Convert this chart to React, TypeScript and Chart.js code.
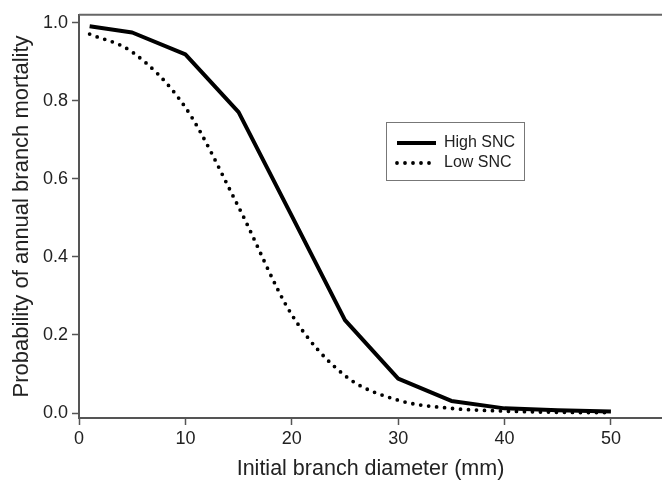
import React, { useEffect, useRef } from "react";
import { Chart, registerables } from "chart.js";

Chart.register(...registerables);

const diameters = [1, 5, 10, 15, 20, 25, 30, 35, 40, 45, 50];
const highSNC = [0.991, 0.975, 0.919, 0.771, 0.505, 0.238, 0.088, 0.031, 0.012, 0.007, 0.004];
const lowSNC = [0.971, 0.925, 0.783, 0.528, 0.252, 0.096, 0.033, 0.012, 0.005, 0.002, 0.001];
const xTicks = [0, 10, 20, 30, 40, 50];
const yTicks = [0, 0.2, 0.4, 0.6, 0.8, 1.0];
const seriesNames = ["High SNC", "Low SNC"];
const xTitle = "Initial branch diameter (mm)";
const yTitle = "Probability of annual branch mortality";

const FONT = '"Liberation Sans", Arial, Helvetica, sans-serif';
const AXIS = "#555555";
const TEXT = "#222222";

const legendPlugin = {
  id: "boxLegend",
  afterDraw(chart: any) {
    const ctx = chart.ctx;
    ctx.save();
    const ca = chart.chartArea;
    ctx.strokeStyle = "#666666";
    ctx.lineWidth = 2;
    ctx.beginPath();
    ctx.moveTo(ca.left, ca.top);
    ctx.lineTo(ca.right, ca.top);
    ctx.stroke();

    const bx = 386.5, by = 122.5, bw = 138, bh = 58;
    ctx.fillStyle = "#ffffff";
    ctx.fillRect(bx, by, bw, bh);
    ctx.strokeStyle = "#777777";
    ctx.lineWidth = 1;
    ctx.strokeRect(bx, by, bw, bh);
    const rows = [143, 163];
    chart.data.datasets.forEach((ds: any, i: number) => {
      const y = rows[i];
      ctx.beginPath();
      ctx.strokeStyle = ds.borderColor;
      ctx.lineWidth = ds.borderWidth;
      ctx.lineCap = ds.borderCapStyle || "butt";
      ctx.setLineDash(ds.borderDash || []);
      ctx.moveTo(397, y);
      ctx.lineTo(436, y);
      ctx.stroke();
      ctx.setLineDash([]);
      ctx.fillStyle = TEXT;
      ctx.font = `16px ${FONT}`;
      ctx.textBaseline = "middle";
      ctx.textAlign = "left";
      ctx.fillText(ds.label, 444, y);
    });
    ctx.restore();
  },
};

export default function App() {
  const ref = useRef<HTMLCanvasElement | null>(null);
  useEffect(() => {
    if (!ref.current) return;
    const chart = new Chart(ref.current, {
      type: "line",
      data: {
        datasets: [
          {
            label: seriesNames[0],
            data: diameters.map((d, i) => ({ x: d, y: highSNC[i] })),
            borderColor: "#000000",
            borderWidth: 4,
            pointRadius: 0,
            tension: 0,
            borderJoinStyle: "round",
          },
          {
            label: seriesNames[1],
            data: diameters.map((d, i) => ({ x: d, y: lowSNC[i] })),
            borderColor: "#000000",
            borderWidth: 3.8,
            borderDash: [0, 8],
            borderCapStyle: "round",
            pointRadius: 0,
            cubicInterpolationMode: "monotone",
          },
        ] as any,
      },
      options: {
        animation: false,
        responsive: false,
        maintainAspectRatio: false,
        layout: { padding: { top: 10, right: 0, left: 0, bottom: 0 } },
        plugins: {
          legend: { display: false },
          tooltip: { enabled: false },
        },
        scales: {
          x: {
            type: "linear",
            min: 0,
            max: 54.8,
            afterBuildTicks: (s: any) => {
              s.ticks = xTicks.map((v) => ({ value: v }));
            },
            afterFit: (s: any) => {
              s.height = 64;
            },
            grid: {
              drawOnChartArea: false,
              drawTicks: true,
              tickLength: 7,
              tickColor: AXIS,
              tickWidth: 1.5,
            },
            border: { display: true, color: AXIS, width: 2 },
            ticks: {
              color: TEXT,
              font: { family: FONT, size: 18 },
              padding: 3,
              maxRotation: 0,
              callback: (v: any) => String(v),
            },
            title: {
              display: true,
              text: xTitle,
              color: TEXT,
              font: { family: FONT, size: 21.5 },
              padding: { top: 0, bottom: 0 },
            },
          },
          y: {
            type: "linear",
            min: -0.0127,
            max: 1.0203,
            afterBuildTicks: (s: any) => {
              s.ticks = yTicks.map((v) => ({ value: v }));
            },
            afterFit: (s: any) => {
              s.width = 79;
            },
            grid: {
              drawOnChartArea: false,
              drawTicks: true,
              tickLength: 7,
              tickColor: AXIS,
              tickWidth: 1.5,
            },
            border: { display: true, color: AXIS, width: 2 },
            ticks: {
              color: TEXT,
              font: { family: FONT, size: 18 },
              padding: 4,
              callback: (v: any) => Number(v).toFixed(1),
            },
            title: {
              display: true,
              text: yTitle,
              color: TEXT,
              font: { family: FONT, size: 22 },
              padding: { top: 9, bottom: 0 },
            },
          },
        },
      } as any,
      plugins: [legendPlugin],
    });
    return () => chart.destroy();
  }, []);
  return (
    <div style={{ position: "absolute", left: 0, top: 0, width: 662, height: 482, background: "#fff" }}>
      <canvas ref={ref} width={662} height={482} style={{ display: "block", width: 662, height: 482 }} />
    </div>
  );
}
